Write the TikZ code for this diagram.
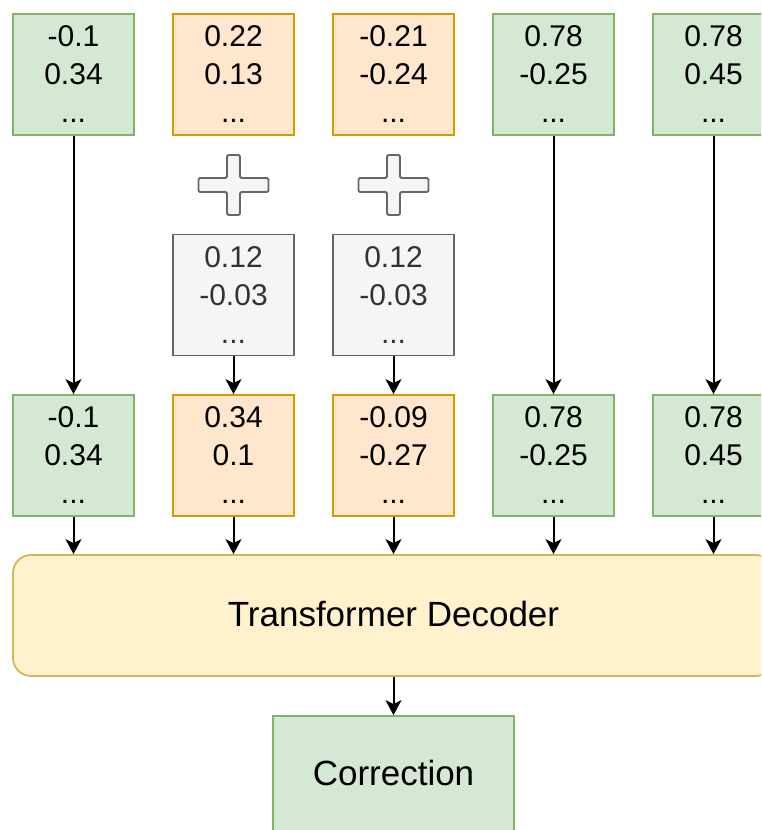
\documentclass[tikz,border=0pt]{standalone}
\usepackage{fontspec}
\setmainfont{Liberation Sans}
\usetikzlibrary{arrows.meta}

\definecolor{gfill}{HTML}{D5E8D4}
\definecolor{gdraw}{HTML}{82B366}
\definecolor{ofill}{HTML}{FFE6CC}
\definecolor{odraw}{HTML}{D79B00}
\definecolor{sfill}{HTML}{F5F5F5}
\definecolor{sdraw}{HTML}{666666}
\definecolor{stext}{HTML}{333333}
\definecolor{yfill}{HTML}{FFF2CC}
\definecolor{ydraw}{HTML}{D6B656}

\tikzset{
  cell/.style={draw, line width=1.8pt, minimum width=121pt, minimum height=121pt,
    inner sep=0pt, align=center, font=\fontsize{30}{38}\selectfont, text=black},
  greencell/.style={cell, fill=gfill, draw=gdraw},
  orangecell/.style={cell, fill=ofill, draw=odraw},
  graycell/.style={cell, fill=sfill, draw=sdraw, text=stext},
  decoderbox/.style={draw=ydraw, fill=yfill, line width=1.8pt, rounded corners=18pt,
    minimum width=761pt, minimum height=121pt, inner sep=0pt,
    font=\fontsize{35}{42}\selectfont, text height=25pt, text depth=4pt},
  outbox/.style={draw=gdraw, fill=gfill, line width=1.8pt, minimum width=241pt,
    minimum height=121pt, inner sep=0pt, font=\fontsize{35}{42}\selectfont,
    text height=25pt, text depth=8pt},
  plusshape/.style={draw=sdraw, fill=sfill, line width=1.8pt, rounded corners=1.5pt},
  flow/.style={draw=black, line width=2pt,
    -{Stealth[length=15pt, width=16pt, inset=4pt]}}
}

\begin{document}
\begin{tikzpicture}[x=1pt, y=-1pt]
\useasboundingbox (0,0) rectangle (761,830);
\clip (0,0) rectangle (761,830);

% input embeddings
\node[greencell]  (t1) at (73.5,74.5)  {-0.1\\0.34\\...};
\node[orangecell] (t2) at (233.5,74.5) {0.22\\0.13\\...};
\node[orangecell] (t3) at (393.5,74.5) {-0.21\\-0.24\\...};
\node[greencell]  (t4) at (553.5,74.5) {0.78\\-0.25\\...};
\node[greencell]  (t5) at (713.5,74.5) {0.78\\0.45\\...};

% plus signs
\foreach \cx in {233.5,393.5}{
  \draw[plusshape, shift={(\cx,185)}]
    (-6.5,-30) -- (6.5,-30) -- (6.5,-7) -- (35,-7) -- (35,7) -- (6.5,7)
    -- (6.5,30) -- (-6.5,30) -- (-6.5,7) -- (-35,7) -- (-35,-7) -- (-6.5,-7) -- cycle;
}

% perturbation vectors
\node[graycell] (p2) at (233.5,295) {0.12\\-0.03\\...};
\node[graycell] (p3) at (393.5,295) {0.12\\-0.03\\...};

% perturbed embeddings
\node[greencell]  (m1) at (73.5,455.5)  {-0.1\\0.34\\...};
\node[orangecell] (m2) at (233.5,455.5) {0.34\\0.1\\...};
\node[orangecell] (m3) at (393.5,455.5) {-0.09\\-0.27\\...};
\node[greencell]  (m4) at (553.5,455.5) {0.78\\-0.25\\...};
\node[greencell]  (m5) at (713.5,455.5) {0.78\\0.45\\...};

% decoder and output
\node[decoderbox] (dec) at (393.5,615.5) {Transformer Decoder};
\node[outbox] (corr) at (393.5,776.5) {Correction};

% connectors
\draw[flow] (t1) -- (m1);
\draw[flow] (t4) -- (m4);
\draw[flow] (t5) -- (m5);
\draw[flow] (p2) -- (m2);
\draw[flow] (p3) -- (m3);
\foreach \m in {m1,m2,m3,m4,m5}{
  \draw[flow] (\m.south) -- (\m.south |- dec.north);
}
\draw[flow] (dec.south) -- (corr.north);
\end{tikzpicture}
\end{document}
